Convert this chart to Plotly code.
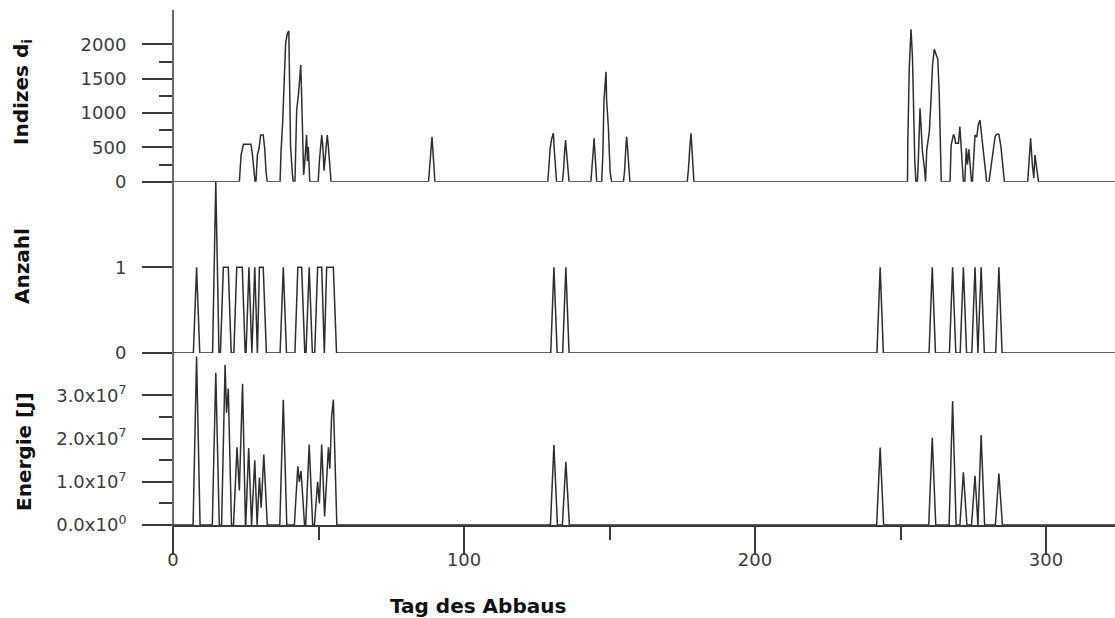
import plotly.graph_objects as go

# ---------------- data ----------------
# Panel 1: Indizes d_i  (vertices of the curve: day, value)
idx_days = [0,
    22.8, 23.0, 23.4, 24.2, 26.8, 27.3, 27.8, 28.2,
    28.5, 28.7, 29.0, 29.6, 30.1, 31.0, 31.5, 32.0, 32.4,
    36.8, 37.1, 37.7, 38.3, 38.7, 39.3, 39.8, 40.0, 40.4, 41.0, 41.3,
    41.9, 42.1, 42.5, 43.1, 43.4, 43.9, 44.2, 44.6, 44.9, 45.3, 45.9, 46.2, 46.5, 47.0,
    49.9, 50.3, 50.7, 51.1, 51.5, 51.9, 52.2, 52.6, 53.0, 53.4, 53.9, 54.3,
    87.8, 88.2, 88.7, 89.0, 89.3, 89.7, 90.0,
    128.8, 129.2, 129.6, 130.1, 130.4, 130.7, 131.0, 131.4, 131.8,
    133.8, 134.2, 134.6, 134.9, 135.2, 135.6, 136.1,
    143.6, 144.0, 144.4, 144.7, 145.0, 145.3, 145.6,
    147.3, 147.7, 148.1, 148.8, 149.0, 149.6, 150.2, 150.7,
    154.8, 155.2, 155.6, 155.9, 156.2, 156.6, 157.0,
    176.7, 177.1, 177.6, 178.0, 178.3, 178.7, 179.0,
    252.4, 252.5, 253.0, 253.6, 254.1, 254.4, 254.9, 255.3,
    255.8, 256.1, 256.4, 256.7, 257.0, 257.5, 258.2, 258.6,
    259.0, 259.9, 260.5, 261.0, 261.6, 262.2, 262.8, 263.3, 263.8, 264.0,
    267.0, 267.4, 268.2, 268.7, 268.9, 269.9, 270.4, 270.8, 271.0, 271.6,
    272.1, 272.6, 273.0, 273.5, 274.0, 274.4,
    274.7, 275.0, 275.6, 276.2, 276.7, 277.3, 277.9, 278.4, 279.0, 279.6,
    280.4, 281.3, 281.9, 282.5, 283.0, 283.8, 284.5, 285.1, 285.7,
    293.7, 294.1, 294.7, 295.3, 295.8, 296.2, 296.8, 297.4,
    323.7]
idx_vals = [0,
    0, 130, 390, 545, 545, 390, 130, 0,
    0, 130, 390, 490, 680, 680, 490, 130, 0,
    0, 418, 874, 1553, 2015, 2160, 2194, 1626, 510, 130, 0,
    0, 583, 1044, 1262, 1456, 1700, 1262, 680, 100, 300, 680, 300, 510, 0,
    0, 300, 510, 680, 510, 160, 300, 510, 680, 510, 130, 0,
    0, 170, 490, 655, 490, 170, 0,
    0, 300, 480, 620, 660, 705, 480, 170, 0,
    0, 170, 450, 607, 450, 170, 0,
    0, 170, 450, 631, 450, 170, 0,
    0, 390, 1190, 1600, 1190, 800, 145, 0,
    0, 170, 490, 655, 490, 170, 0,
    0, 170, 500, 705, 500, 170, 0,
    0, 549, 1651, 2219, 1820, 1068, 300, 0,
    0, 300, 800, 1068, 853, 450, 200, 0,
    460, 728, 1214, 1700, 1928, 1850, 1782, 1287, 418, 0,
    0, 534, 690, 632, 559, 559, 801, 534, 250, 0,
    0, 486, 250, 470, 200, 0,
    0, 300, 680, 650, 825, 898, 650, 400, 150, 0,
    0, 300, 500, 655, 690, 690, 510, 250, 0,
    0, 300, 632, 250, 50, 389, 200, 0,
    0]

# Panel 2: Anzahl
cnt_days = [0, 7.0, 8.1, 9.2, 13.6, 14.7, 15.8, 16.3, 17.3, 19.0, 20.0,
    20.9, 21.9, 23.8, 24.8, 25.1, 26.1, 27.1, 28.1, 29.0, 29.7, 31.0, 32.1,
    36.8, 37.9, 39.0, 41.9, 42.9, 44.2, 45.3, 45.7, 46.8, 47.9,
    48.7, 49.7, 51.1, 52.0, 52.8, 55.1, 56.2,
    129.8, 130.9, 132.0, 133.9, 135.0, 136.1,
    241.9, 243.0, 244.1, 259.8, 260.9, 262.0, 266.8, 267.9, 269.0,
    270.5, 271.6, 272.7, 274.5, 275.6, 276.6, 277.7, 278.8,
    282.7, 283.8, 284.9, 323.7]
cnt_vals = [0, 0, 1, 0, 0, 2, 0, 0, 1, 1, 0,
    0, 1, 1, 0, 0, 1, 0, 1, 0, 1, 1, 0,
    0, 1, 0, 0, 1, 1, 0, 0, 1, 0,
    0, 1, 1, 0, 1, 1, 0,
    0, 1, 0, 0, 1, 0,
    0, 1, 0, 0, 1, 0, 0, 1, 0,
    0, 1, 0, 0, 1, 0, 1, 0,
    0, 1, 0, 0]

# Panel 3: Energie [J]
en_days = [0, 6.9, 8.1, 9.3, 13.5, 14.7, 15.9, 16.7, 17.9, 18.4, 19.0, 20.1,
    20.8, 22.0, 22.8, 23.9, 24.9, 25.0, 26.0, 27.0, 28.1, 28.9, 29.7, 30.3, 31.2, 32.4,
    36.7, 37.9, 39.1, 41.7, 42.9, 43.4, 44.0, 45.2, 45.6, 46.8, 48.0,
    48.6, 49.7, 50.3, 51.1, 52.1, 53.4, 53.9, 54.5, 55.1, 56.3,
    129.7, 130.9, 132.1, 133.8, 135.0, 136.2,
    241.8, 243.0, 244.2, 259.7, 260.9, 262.1, 266.7, 267.9, 269.1,
    270.4, 271.6, 272.8, 274.4, 275.6, 276.6, 277.7, 278.9,
    282.6, 283.8, 285.0, 323.7]
en_vals = [0, 0, 3.9e7, 0, 0, 3.52e7, 0, 0, 3.7e7, 2.6e7, 3.16e7, 0,
    0, 1.8e7, 0.8e7, 3.27e7, 0, 0, 1.78e7, 0, 1.5e7, 0, 1.1e7, 0.4e7, 1.63e7, 0,
    0, 2.9e7, 0, 0, 1.36e7, 1.0e7, 1.25e7, 0, 0, 1.86e7, 0,
    0, 1.0e7, 0.5e7, 1.86e7, 0.2e7, 1.8e7, 1.3e7, 2.5e7, 2.9e7, 0,
    0, 1.85e7, 0, 0, 1.46e7, 0,
    0, 1.79e7, 0, 0, 2.02e7, 0, 0, 2.87e7, 0,
    0, 1.22e7, 0, 0, 1.14e7, 0, 2.08e7, 0,
    0, 1.19e7, 0, 0]

x_ticks = [0, 100, 200, 300]
x_minor = [50, 150, 250]
idx_ticks = [0, 500, 1000, 1500, 2000]
idx_minor = [250, 750, 1250, 1750]
cnt_ticks = [0, 1]
en_ticks = [0, 1e7, 2e7, 3e7]
en_ticktext = ["0.0x10<sup>0</sup>", "1.0x10<sup>7</sup>", "2.0x10<sup>7</sup>", "3.0x10<sup>7</sup>"]
en_minor = [0.5e7, 1.5e7, 2.5e7]

# ---------------- styling ----------------
INK = "#2e2e2e"
AX = "#3a3a3a"
tickfont = dict(family="DejaVu Sans", size=18, color="#3c3c3c")
titlefont = dict(family="DejaVu Sans", size=20, color="#111111", weight="bold")
line = dict(color=INK, width=1.5)

fig = go.Figure()
fig.add_trace(go.Scatter(x=idx_days, y=idx_vals, mode="lines", line=line, xaxis="x", yaxis="y", showlegend=False))
fig.add_trace(go.Scatter(x=cnt_days, y=cnt_vals, mode="lines", line=line, xaxis="x", yaxis="y2", showlegend=False))
fig.add_trace(go.Scatter(x=en_days, y=en_vals, mode="lines", line=line, xaxis="x", yaxis="y3", showlegend=False))

H = 543.0  # plot-area height in px
def pfrac(px_from_top):
    return (553.0 - px_from_top) / H

common_y = dict(showgrid=False, zeroline=False, showline=False, ticks="outside",
                ticklen=30, tickwidth=1.5, tickcolor=AX, tickfont=tickfont,
                ticklabelstandoff=12, fixedrange=True, automargin=False)

fig.update_layout(
    template="none",
    width=1115, height=618,
    margin=dict(l=173, r=0, t=10, b=65, pad=0),
    paper_bgcolor="white", plot_bgcolor="white",
    xaxis=dict(domain=[0, 1], anchor="y3", range=[0, 323.7], automargin=False,
               tickmode="array", tickvals=x_ticks, ticks="outside", ticklen=28,
               tickwidth=1.5, tickcolor=AX, showline=True, linecolor=AX, linewidth=1.5,
               showgrid=False, zeroline=False, tickfont=tickfont, ticklabelstandoff=-10,
               fixedrange=True,
               minor=dict(tickmode="array", tickvals=x_minor, ticks="outside",
                          ticklen=13, tickwidth=1.5, tickcolor=AX, showgrid=False)),
    yaxis=dict(domain=[pfrac(181.7), 1.0], range=[0, 2500], anchor="x",
               tickmode="array", tickvals=idx_ticks,
               minor=dict(tickmode="array", tickvals=idx_minor, ticks="outside",
                          ticklen=13, tickwidth=1.5, tickcolor=AX, showgrid=False),
               **common_y),
    yaxis2=dict(domain=[pfrac(353), pfrac(181.7)], range=[0, 2], anchor="x",
                tickmode="array", tickvals=cnt_ticks, **common_y),
    yaxis3=dict(domain=[pfrac(525), pfrac(353)], range=[0, 3.98e7], anchor="x",
                tickmode="array", tickvals=en_ticks, ticktext=en_ticktext,
                minor=dict(tickmode="array", tickvals=en_minor, ticks="outside",
                           ticklen=13, tickwidth=1.5, tickcolor=AX, showgrid=False),
                **common_y),
    shapes=[dict(type="line", xref="paper", yref="paper", x0=0, x1=0, y0=0, y1=1,
                 line=dict(color=AX, width=1.5))],
)

def xfrac(px):
    return (px - 173.0) / 942.0

fig.add_annotation(text="Indizes d<sub>i</sub>", textangle=-90, xref="paper", yref="paper",
                   x=xfrac(22), y=pfrac(92), xanchor="center", yanchor="middle",
                   showarrow=False, font=titlefont)
fig.add_annotation(text="Anzahl", textangle=-90, xref="paper", yref="paper",
                   x=xfrac(22), y=pfrac(266), xanchor="center", yanchor="middle",
                   showarrow=False, font=titlefont)
fig.add_annotation(text="Energie [J]", textangle=-90, xref="paper", yref="paper",
                   x=xfrac(24), y=pfrac(452), xanchor="center", yanchor="middle",
                   showarrow=False, font=titlefont)
fig.add_annotation(text="Tag des Abbaus", xref="paper", yref="paper",
                   x=xfrac(478), y=pfrac(606), xanchor="center", yanchor="middle",
                   showarrow=False, font=titlefont)

fig.write_html("out.html", config={"displayModeBar": False},
               post_script="document.body.style.margin='0px';")
